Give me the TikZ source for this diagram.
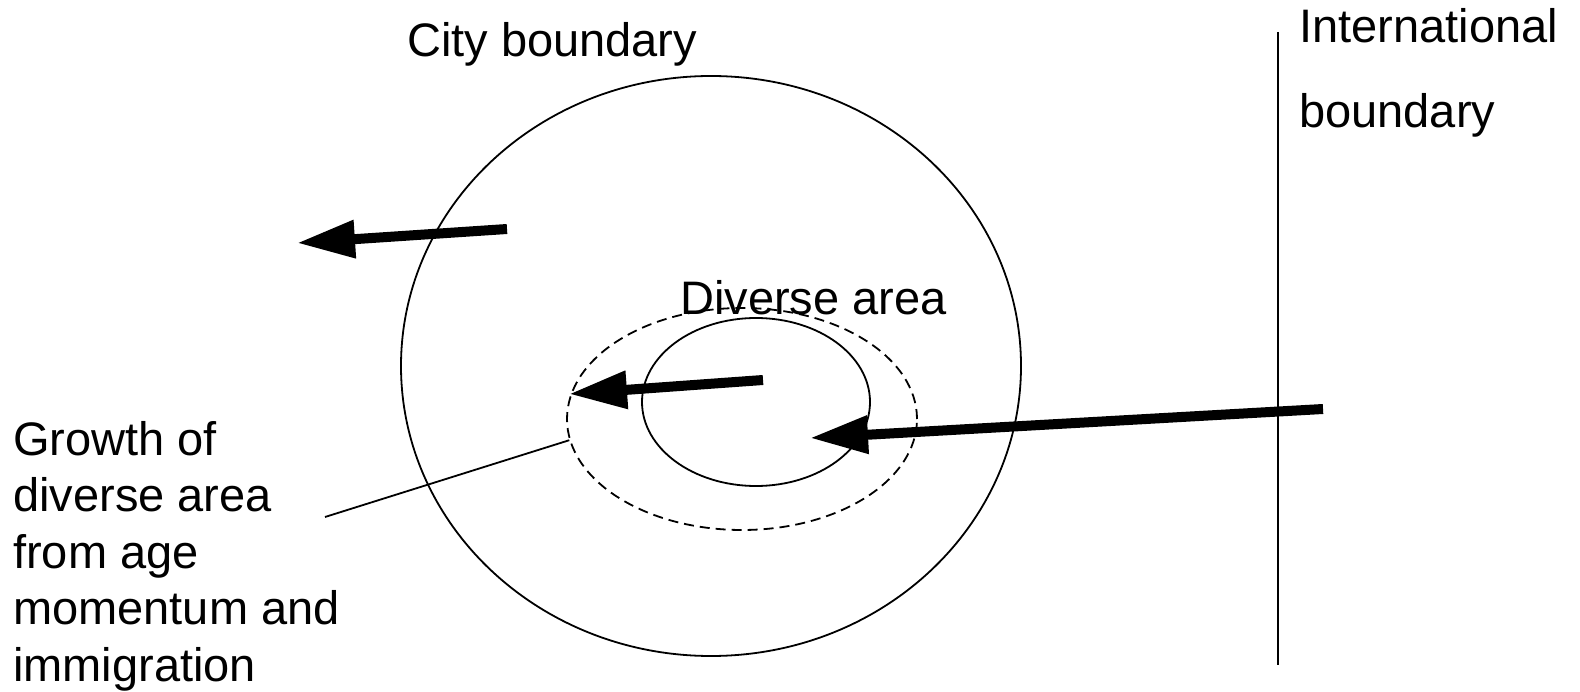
\documentclass[tikz,border=0pt]{standalone}
\usepackage{fontspec}
\setmainfont{Liberation Sans}
\usetikzlibrary{arrows.meta,shapes.geometric}

\begin{document}
\begin{tikzpicture}[x=1pt,y=-1pt,>={Triangle[length=58pt,width=36pt]},
  thinline/.style={line width=1.8pt},
  flow/.style={->,line width=10pt},
  label/.style={inner sep=0pt,font=\fontsize{47}{54}\selectfont}]
\useasboundingbox (0,0) rectangle (1580,692);
% areas
\node[draw,thinline,ellipse,inner sep=0pt,minimum width=620pt,minimum height=580pt] (city) at (711,366) {};
\node[draw,thinline,ellipse,inner sep=0pt,minimum width=228pt,minimum height=168pt] (core) at (756,402) {};
\node[draw,thinline,dash pattern=on 10pt off 6pt,ellipse,inner sep=0pt,minimum width=350pt,minimum height=222pt] (growth) at (742,419) {};
% border
\coordinate (bordertop) at (1278,32);
\coordinate (borderbot) at (1278,665);
\draw[thinline] (bordertop)--(borderbot);
% labels
\node[label,anchor=base west] (citylbl) at (407,57) {City boundary};
\node[label,anchor=base west] (corelbl) at (680,315) {Diverse area};
\node[label,anchor=base west,align=left,font=\fontsize{47}{85}\selectfont] (borderlbl) at (1299,128) {International\\boundary};
\node[label,anchor=base west,align=left,font=\fontsize{47}{56.5}\selectfont] (growthlbl) at (13,681) {Growth of\\diverse area\\from age\\momentum and\\immigration};
% movements
\coordinate (outtail) at (507,229);
\coordinate (outtip) at (297,243);
\coordinate (intail) at (763,380);
\coordinate (intip) at (569,394);
\coordinate (migtail) at (1323,409);
\coordinate (migtip) at (810,438);
\draw[flow] (outtail)--(outtip);
\draw[flow] (intail)--(intip);
\draw[flow] (migtail)--(migtip);
\coordinate (leader) at (325,517);
\draw[thinline] (leader)--(growth.187);
\end{tikzpicture}
\end{document}
